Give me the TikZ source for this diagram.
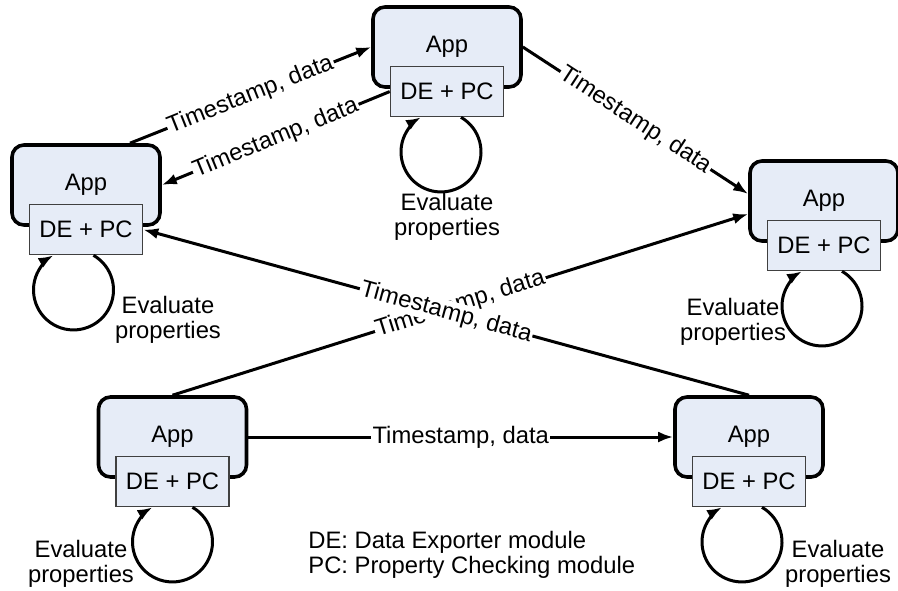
\documentclass[tikz,border=0pt]{standalone}
\usepackage{fontspec}
\setmainfont{Liberation Sans}
\usetikzlibrary{arrows.meta,positioning}
\definecolor{appfill}{RGB}{230,236,247}

\begin{document}
\begin{tikzpicture}[x=0.5pt,y=-0.5pt,
  font=\fontsize{11.9}{12.2}\selectfont,
  appbox/.style={draw, line width=1.8pt, rounded corners=6pt, fill=appfill,
    minimum width=74pt, minimum height=40pt},
  modbox/.style={draw=black!75, line width=0.75pt, fill=appfill,
    minimum width=56.5pt, minimum height=25pt, inner sep=0pt},
  flow/.style={-{Latex[length=7.5pt,width=5.5pt]}, line width=1.5pt},
  lbl/.style={midway, sloped, fill=white, inner sep=0.6pt},
  evalnote/.style={align=center, inner sep=0pt}]

\useasboundingbox (0,0) rectangle (898,590);

% Apps (outer box) with their DE + PC module
\node[appbox] (a1) at (447,47) {App};
\node[modbox, below=-11.5pt of a1] (m1) {DE + PC};

\node[appbox] (a2) at (86,185) {App};
\node[modbox, below=-11.5pt of a2] (m2) {DE + PC};

\node[appbox] (a3) at (824,201) {App};
\node[modbox, below=-11.5pt of a3] (m3) {DE + PC};

\node[appbox] (a4) at (172.5,437) {App};
\node[modbox, below=-11.5pt of a4] (m4) {DE + PC};

\node[appbox] (a5) at (749,437) {App};
\node[modbox, below=-11.5pt of a5] (m5) {DE + PC};

% Messages between the apps
\draw[flow] ([xshift=22pt]a2.north) -- (a1.west) node[lbl] {Timestamp, data};
\draw[flow] (m1.west) -- (a2.east) node[lbl] {Timestamp, data};
\draw[flow] (a1.east) -- ([yshift=3.5pt]a3.west) node[lbl] {Timestamp, data};
\draw[flow] (a4.north) -- ([yshift=-6.5pt]a3.west) node[lbl] {Timestamp, data};
\draw[flow] (a5.north) -- (m2.east) node[lbl] {Timestamp, data};
\draw[flow] (a4.east) -- (a5.west) node[lbl] {Timestamp, data};

% Self loops: evaluate properties
\draw[flow] ([xshift=7pt]m1.south) arc[start angle=60, end angle=-240, radius=20pt];
\draw[flow] ([xshift=3.75pt]m2.south) arc[start angle=60, end angle=-240, radius=20pt];
\draw[flow] ([xshift=9pt]m3.south) arc[start angle=60, end angle=-240, radius=20pt];
\draw[flow] ([xshift=10pt]m4.south) arc[start angle=60, end angle=-240, radius=20pt];
\draw[flow] ([xshift=6.5pt]m5.south) arc[start angle=60, end angle=-240, radius=20pt];

\node[evalnote] (e1) at (447,217) {Evaluate\\properties};
\node[evalnote] (e2) at (168,320) {Evaluate\\properties};
\node[evalnote] (e3) at (733,322) {Evaluate\\properties};
\node[evalnote] (e4) at (81,564) {Evaluate\\properties};
\node[evalnote] (e5) at (838,564) {Evaluate\\properties};

% Legend
\node[align=left, inner sep=0pt, anchor=west] (legend) at (308,555)
  {DE: Data Exporter module\\PC: Property Checking module};

\end{tikzpicture}
\end{document}
